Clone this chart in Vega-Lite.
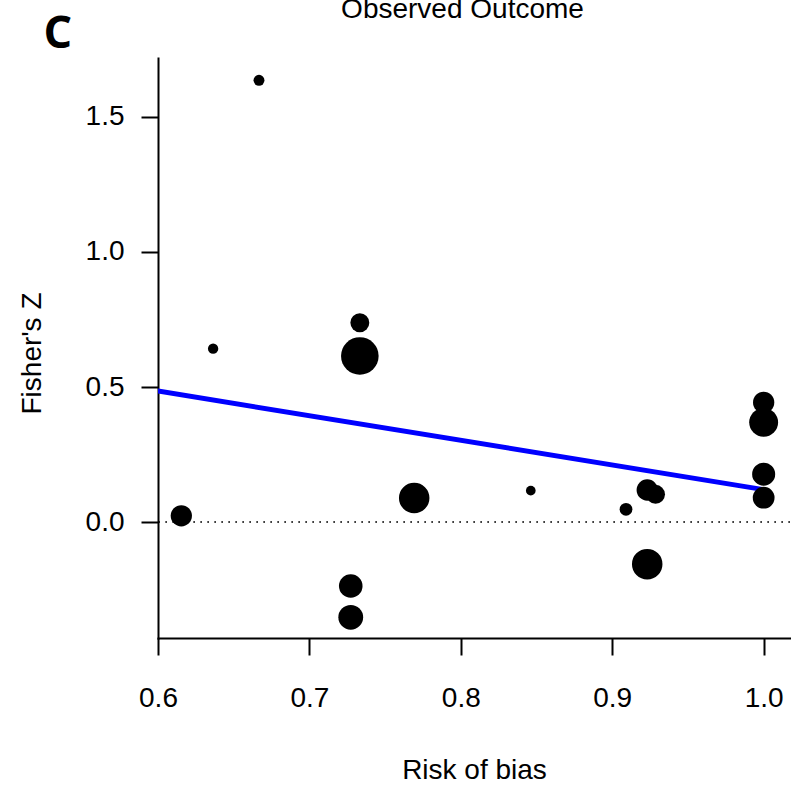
{
  "$schema": "https://vega.github.io/schema/vega-lite/v6.json",
  "width": 632,
  "height": 580,
  "autosize": {"type": "none"},
  "padding": {"left": 158, "top": 58, "right": 1, "bottom": 149},
  "background": "white",
  "config": {"view": {"stroke": null}},
  "datasets": {
    "studies": [
      {"x": 0.6154, "y": 0.023, "weight": 5.12},
      {"x": 0.6364, "y": 0.642, "weight": 1.21},
      {"x": 0.6667, "y": 1.636, "weight": 1.35},
      {"x": 0.7333, "y": 0.738, "weight": 4.05},
      {"x": 0.7333, "y": 0.615, "weight": 15.96},
      {"x": 0.7692, "y": 0.089, "weight": 10.52},
      {"x": 0.7273, "y": -0.237, "weight": 6.29},
      {"x": 0.7273, "y": -0.353, "weight": 6.97},
      {"x": 0.8462, "y": 0.116, "weight": 1.07},
      {"x": 0.9091, "y": 0.047, "weight": 1.85},
      {"x": 0.9231, "y": 0.1185, "weight": 5.12},
      {"x": 0.9286, "y": 0.1025, "weight": 4.05},
      {"x": 0.9231, "y": -0.156, "weight": 10.52},
      {"x": 1.0, "y": 0.443, "weight": 5.12},
      {"x": 1.0, "y": 0.369, "weight": 9.45},
      {"x": 1.0, "y": 0.177, "weight": 6.01},
      {"x": 1.0, "y": 0.09, "weight": 5.37}
    ],
    "fit": [
      {"x": 0.6, "y": 0.485},
      {"x": 1.0, "y": 0.12}
    ],
    "reference": [
      {"ref": 0}
    ]
  },
  "layer": [
    {
      "data": {"name": "reference"},
      "mark": {"type": "rule", "color": "black", "strokeWidth": 1.7, "strokeDash": [1.7, 5.3]},
      "encoding": {
        "y": {"field": "ref", "type": "quantitative", "axis": null}
      }
    },
    {
      "data": {"name": "fit"},
      "mark": {"type": "line", "color": "#0000FF", "strokeWidth": 5, "strokeCap": "round", "clip": true},
      "encoding": {
        "x": {
          "field": "x", "type": "quantitative",
          "axis": {
            "orient": "top", "domain": false, "ticks": false, "labels": false, "grid": false,
            "title": "Observed Outcome", "titleFont": "Liberation Sans", "titleFontSize": 28,
            "titleFontWeight": "normal", "titleColor": "black",
            "titleX": 304, "titleY": -41, "titleAlign": "center", "titleBaseline": "alphabetic", "titleAngle": 0
          }
        },
        "y": {
          "field": "y", "type": "quantitative",
          "axis": {
            "orient": "right", "domain": false, "ticks": false, "labels": false, "grid": false,
            "title": "C", "titleFont": "Open Sans", "titleFontSize": 45,
            "titleFontWeight": "bold", "titleColor": "black",
            "titleX": -747, "titleY": -11, "titleAlign": "left", "titleBaseline": "alphabetic", "titleAngle": 0
          }
        }
      }
    },
    {
      "data": {"name": "studies"},
      "mark": {"type": "circle", "color": "black", "opacity": 1, "stroke": null},
      "encoding": {
        "x": {
          "field": "x", "type": "quantitative",
          "scale": {"domain": [0.6, 1.0174], "nice": false, "zero": false},
          "axis": {
            "orient": "bottom",
            "values": [0.6, 0.7, 0.8, 0.9, 1.0], "format": ".1f",
            "grid": false, "domainColor": "black", "domainWidth": 2, "domainCap": "square",
            "tickColor": "black", "tickWidth": 2, "tickSize": 17,
            "labelFont": "Liberation Sans", "labelFontSize": 28, "labelColor": "black",
            "labelBaseline": "alphabetic", "labelPadding": 51, "labelFlush": false, "labelOverlap": false,
            "title": "Risk of bias", "titleFont": "Liberation Sans", "titleFontSize": 28,
            "titleFontWeight": "normal", "titleColor": "black",
            "titleX": 316, "titleY": 140, "titleAlign": "center", "titleBaseline": "alphabetic"
          }
        },
        "y": {
          "field": "y", "type": "quantitative",
          "scale": {"domain": [-0.4296, 1.7185], "nice": false, "zero": false},
          "axis": {
            "orient": "left",
            "values": [0, 0.5, 1.0, 1.5], "format": ".1f",
            "grid": false, "domainColor": "black", "domainWidth": 2, "domainCap": "square",
            "tickColor": "black", "tickWidth": 2, "tickSize": 17,
            "labelFont": "Liberation Sans", "labelFontSize": 28, "labelColor": "black",
            "labelAlign": "right", "labelBaseline": "middle", "labelPadding": 17, "labelFlush": false, "labelOverlap": false,
            "title": "Fisher's Z", "titleFont": "Liberation Sans", "titleFontSize": 28,
            "titleFontWeight": "normal", "titleColor": "black",
            "titleX": -118, "titleY": 295, "titleAngle": -90, "titleAlign": "center", "titleBaseline": "alphabetic"
          }
        },
        "size": {
          "field": "weight", "type": "quantitative",
          "scale": {"type": "linear", "domain": [0, 16], "range": [0, 1414], "zero": true},
          "legend": null
        }
      }
    }
  ],
  "resolve": {"axis": {"x": "independent", "y": "independent"}}
}
